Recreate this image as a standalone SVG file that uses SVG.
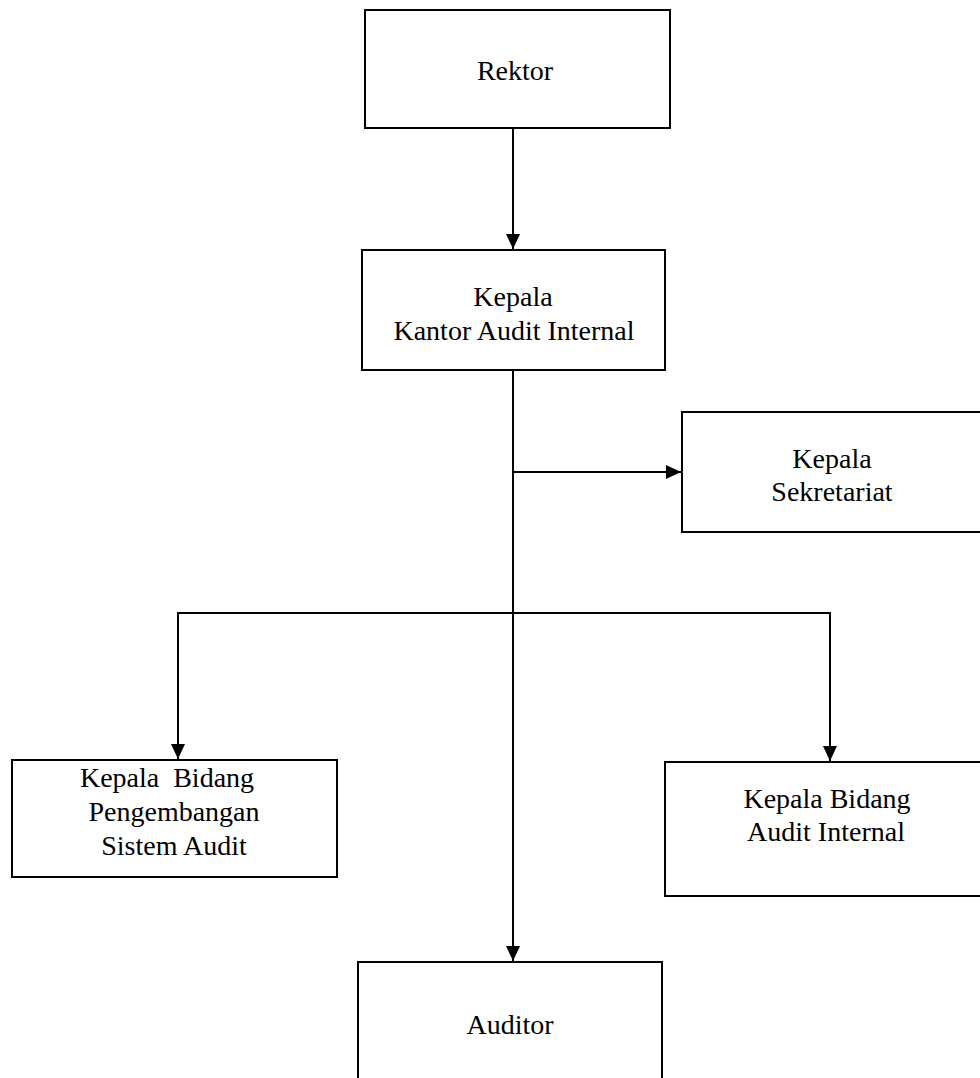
<svg xmlns="http://www.w3.org/2000/svg" width="980" height="1078" viewBox="0 0 980 1078">
<style>
.box{fill:#fff;stroke:#000;stroke-width:2}
.t{font-family:'Liberation Serif','Times New Roman',serif;font-size:28px;fill:#000;text-anchor:middle}
.c{fill:none;stroke:#000;stroke-width:2}
</style>
<defs>
<marker id="ah" markerUnits="userSpaceOnUse" markerWidth="16" markerHeight="14" refX="15" refY="7" orient="auto">
<path d="M0,0 L15,7 L0,14 Z" fill="#000"/>
</marker>
</defs>
<rect width="980" height="1078" fill="#fff"/>
<g id="connectors">
<line class="c" x1="513" y1="128" x2="513" y2="249" marker-end="url(#ah)"/>
<line class="c" x1="513" y1="370" x2="513" y2="961" marker-end="url(#ah)"/>
<line class="c" x1="513" y1="472" x2="681" y2="472" marker-end="url(#ah)"/>
<polyline class="c" points="513,613 178,613 178,759" marker-end="url(#ah)"/>
<polyline class="c" points="513,613 830,613 830,761" marker-end="url(#ah)"/>
</g>
<g id="rektor">
<rect class="box" x="365" y="10" width="305" height="118"/>
<text class="t" x="515" y="80">Rektor</text>
</g>
<g id="kepala-kantor">
<rect class="box" x="362" y="250" width="303" height="120"/>
<text class="t" x="513" y="306">Kepala</text>
<text class="t" x="514" y="340">Kantor Audit Internal</text>
</g>
<g id="sekretariat">
<rect class="box" x="682" y="412" width="310" height="120"/>
<text class="t" x="832" y="468">Kepala</text>
<text class="t" x="832" y="501">Sekretariat</text>
</g>
<g id="bidang-pengembangan">
<rect class="box" x="12" y="760" width="325" height="117"/>
<text class="t" x="167" y="787" xml:space="preserve">Kepala  Bidang</text>
<text class="t" x="174" y="821">Pengembangan</text>
<text class="t" x="174" y="855">Sistem Audit</text>
</g>
<g id="bidang-audit">
<rect class="box" x="665" y="762" width="327" height="134"/>
<text class="t" x="827" y="808">Kepala Bidang</text>
<text class="t" x="826" y="841">Audit Internal</text>
</g>
<g id="auditor">
<rect class="box" x="358" y="962" width="304" height="130"/>
<text class="t" x="510" y="1034">Auditor</text>
</g>
</svg>
